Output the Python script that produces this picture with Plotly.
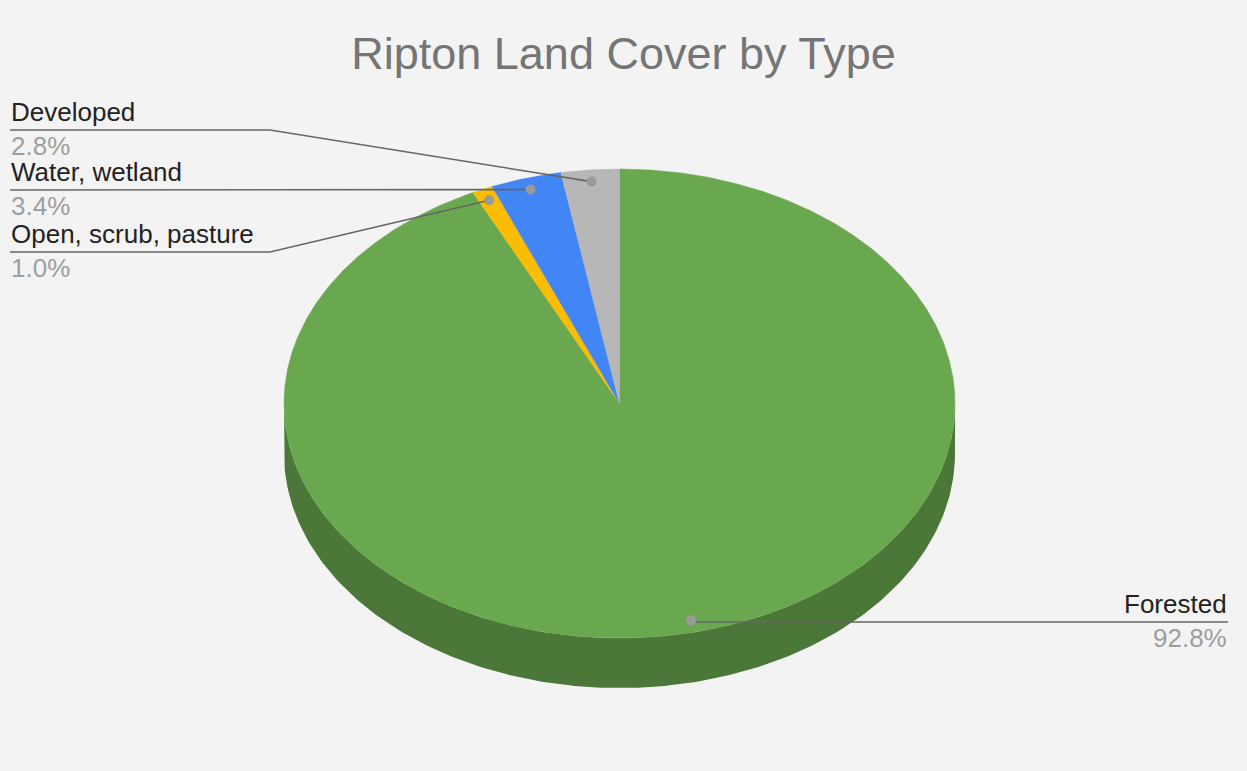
import numpy as np
import plotly.graph_objects as go

# ---- data ----
categories = ["Forested", "Open, scrub, pasture", "Water, wetland", "Developed"]
shares = [92.8, 1.0, 3.4, 2.8]
pct_labels = ["92.8%", "1.0%", "3.4%", "2.8%"]
top_colors = ["#6aa84f", "#fbbc04", "#4285f4", "#b7b7b7"]
side_colors = ["#4b7838", "#b08503", "#2e5dab", "#808080"]
title_text = "Ripton Land Cover by Type"

# ---- layout / geometry (pixel space of the page) ----
W, H = 1247, 771
CX, CY, RX, RY, DEPTH = 619.5, 403.5, 335.5, 234.5, 50
DOT_R = 0.95
FONT = "Liberation Sans, Arial, sans-serif"
LBL_SIZE = 26

# label placement: (side, line y, elbow x, end x)
label_layout = {
    "Forested": ("right", 622, None, 1228),
    "Open, scrub, pasture": ("left", 252, 270, 10),
    "Water, wetland": ("left", 190, 270, 10),
    "Developed": ("left", 130, 270, 10),
}


def rim(theta_deg, r=1.0, dy=0.0):
    t = np.radians(theta_deg)
    return CX + RX * r * np.sin(t), CY - RY * r * np.cos(t) + dy


total = float(sum(shares))
bounds = np.concatenate([[0.0], np.cumsum(shares) / total * 360.0])

fig = go.Figure()

# extruded side (front half only, theta in [90, 270])
for i, cat in enumerate(categories):
    a0, a1 = bounds[i], bounds[i + 1]
    lo, hi = max(a0, 90.0), min(a1, 270.0)
    if hi <= lo:
        continue
    th = np.linspace(lo, hi, 200)
    xt, yt = rim(th)
    xb, yb = rim(th[::-1], dy=DEPTH)
    fig.add_trace(go.Scatter(
        x=np.concatenate([xt, xb]), y=np.concatenate([yt, yb]),
        fill="toself", fillcolor=side_colors[i], mode="lines",
        line=dict(width=0, color=side_colors[i]), hoverinfo="skip"))

# top face slices
for i, cat in enumerate(categories):
    a0, a1 = bounds[i], bounds[i + 1]
    th = np.linspace(a0, a1, max(int((a1 - a0) * 3), 8))
    xr, yr = rim(th)
    fig.add_trace(go.Scatter(
        x=np.concatenate([[CX], xr, [CX]]), y=np.concatenate([[CY], yr, [CY]]),
        fill="toself", fillcolor=top_colors[i], mode="lines",
        line=dict(width=0.5, color=top_colors[i]),
        name=cat, text=pct_labels[i], hoverinfo="name+text"))

# leader lines, dots and labels
annotations = []
for i, cat in enumerate(categories):
    mid = (bounds[i] + bounds[i + 1]) / 2.0
    dx, dy = rim(mid, r=DOT_R)
    side, ly, ex, endx = label_layout[cat]
    if ex is None:
        xs, ys = [dx, endx], [ly, ly]
    else:
        xs, ys = [dx, ex, endx], [dy, ly, ly]
    fig.add_trace(go.Scatter(x=xs, y=ys, mode="lines",
                             line=dict(color="#666666", width=1.6),
                             hoverinfo="skip"))
    fig.add_trace(go.Scatter(x=[dx], y=[dy], mode="markers",
                             marker=dict(size=10, color="#9a9a9a"),
                             hoverinfo="skip"))
    anchor = "left" if side == "left" else "right"
    annotations.append(dict(x=endx, y=ly - 18, text=cat, showarrow=False,
                            xanchor=anchor, yanchor="middle", xref="x", yref="y",
                            borderpad=0,
                            font=dict(family=FONT, size=LBL_SIZE, color="#222222")))
    annotations.append(dict(x=endx, y=ly + 16, text=pct_labels[i], showarrow=False,
                            xanchor=anchor, yanchor="middle", xref="x", yref="y",
                            borderpad=0,
                            font=dict(family=FONT, size=LBL_SIZE, color="#9e9e9e")))

fig.update_layout(
    width=W, height=H, autosize=False,
    margin=dict(l=0, r=0, t=0, b=0),
    paper_bgcolor="#f3f3f3", plot_bgcolor="#f3f3f3",
    showlegend=False,
    title=dict(text=title_text, x=0.5, xanchor="center",
               y=1 - 53 / H, yanchor="middle", yref="container",
               font=dict(family=FONT, size=45, color="#757575")),
    xaxis=dict(range=[0, W], visible=False, fixedrange=True),
    yaxis=dict(range=[H, 0], visible=False, fixedrange=True),
    annotations=annotations,
)

fig.write_html("out.html")
